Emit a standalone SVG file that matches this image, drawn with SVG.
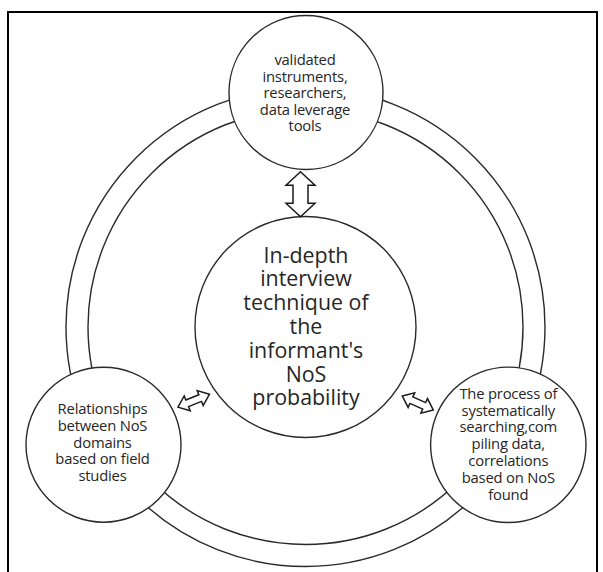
<svg xmlns="http://www.w3.org/2000/svg" width="603" height="572" viewBox="0 0 603 572">
<style>
.node{fill:#fff;stroke:#2a2a2a;stroke-width:1.4}
.ring{fill:none;stroke:#2a2a2a;stroke-width:1.4}
.arr{fill:#fff;stroke:#1a1a1a;stroke-width:1.5;stroke-linejoin:miter}
.t{font-family:"Open Sans","Noto Sans","DejaVu Sans",sans-serif;fill:#262626;text-anchor:middle}
.s{font-size:14.8px;letter-spacing:-0.2px}
.b{font-size:21.4px}
</style>
<defs>
<polygon id="dbl" points="-22.5,0 -9,-14.5 -9,-7.5 9,-7.5 9,-14.5 22.5,0 9,14.5 9,7.5 -9,7.5 -9,14.5"/>
<polygon id="dbls" points="-17,0 -7,-8 -7,-3.6 7,-3.6 7,-8 17,0 7,8 7,3.6 -7,3.6 -7,8"/>
</defs>
<rect x="0" y="0" width="603" height="572" fill="#fff"/>
<rect id="frame" x="8" y="12" width="589" height="580" fill="none" stroke="#000" stroke-width="2"/>
<g id="cycle">
<circle class="ring" cx="305.5" cy="327" r="239.5"/>
<circle class="ring" cx="305.5" cy="327" r="217.5"/>
</g>
<g id="top">
<circle class="node" cx="306" cy="92.5" r="77"/>
<text class="t s" y="65.2"><tspan x="305">validated</tspan><tspan x="305" dy="16.5">instruments,</tspan><tspan x="305" dy="16.5">researchers,</tspan><tspan x="305" dy="16.5">data leverage</tspan><tspan x="305" dy="16.5">tools</tspan></text>
</g>
<g id="center">
<circle class="node" cx="305.5" cy="327" r="110.5"/>
<text class="t b" y="262.5"><tspan x="306">In-depth</tspan><tspan x="306" dy="23.8">interview</tspan><tspan x="306" dy="23.8">technique of</tspan><tspan x="306" dy="23.8">the</tspan><tspan x="306" dy="23.8">informant's</tspan><tspan x="306" dy="23.8">NoS</tspan><tspan x="306" dy="23.8">probability</tspan></text>
</g>
<g id="left">
<circle class="node" cx="103.5" cy="444.7" r="77.5"/>
<text class="t s" y="414.2"><tspan x="102.5">Relationships</tspan><tspan x="102.5" dy="16.7">between NoS</tspan><tspan x="102.5" dy="16.7">domains</tspan><tspan x="102.5" dy="16.7">based on field</tspan><tspan x="102.5" dy="16.7">studies</tspan></text>
</g>
<g id="right">
<circle class="node" cx="508.3" cy="444.8" r="77.7"/>
<text class="t s" y="398.7"><tspan x="508.3">The process of</tspan><tspan x="508.3" dy="16.8">systematically</tspan><tspan x="508.3" dy="16.8">searching,com</tspan><tspan x="508.3" dy="16.8">piling data,</tspan><tspan x="508.3" dy="16.8">correlations</tspan><tspan x="508.3" dy="16.8">based on NoS</tspan><tspan x="508.3" dy="16.8">found</tspan></text>
</g>
<g id="connectors">
<use href="#dbl" class="arr" transform="translate(300.5,194.2) rotate(90)"/>
<use href="#dbls" class="arr" transform="translate(193.7,400.7) rotate(-22.1)"/>
<use href="#dbls" class="arr" transform="translate(417.8,403) rotate(24.3)"/>
</g>
</svg>
